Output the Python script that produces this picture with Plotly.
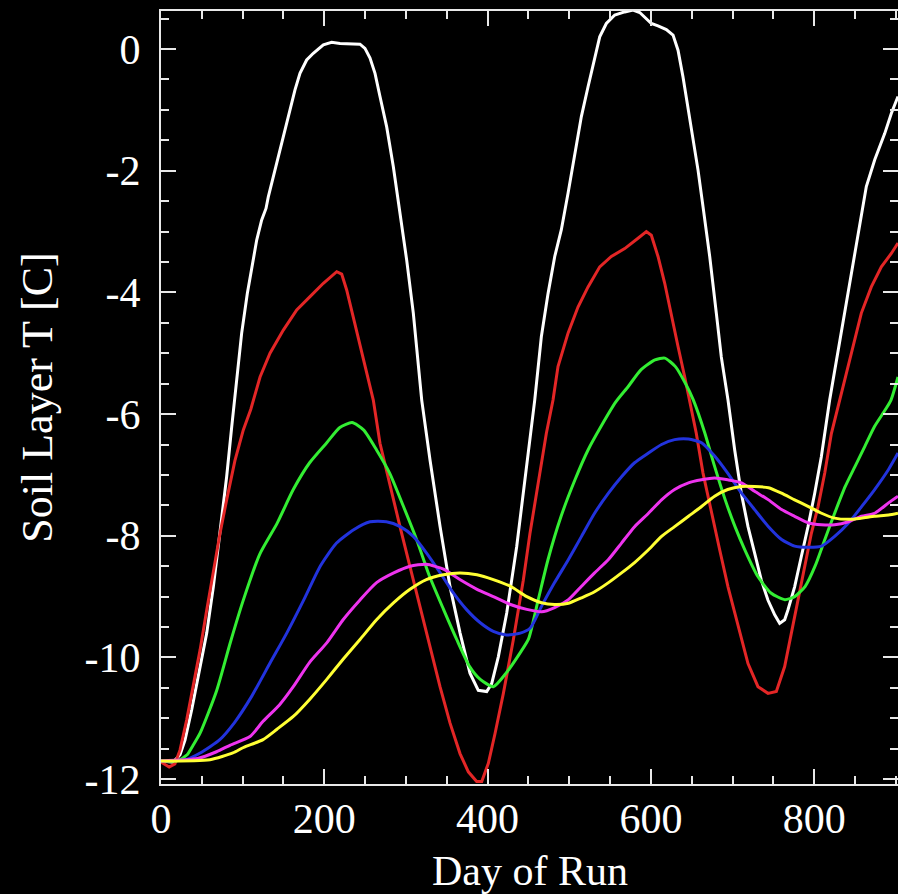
import plotly.graph_objects as go

# Soil layer temperature at six depths over the run (day, degC)
white_day = [0, 15, 23.3, 29.4, 37.6, 47.8, 56, 64.1, 72.3, 80.4, 86.6, 90.6, 98.8, 105.7, 111.1, 117.2,
             123.3, 128.6, 131.4, 139.6, 147.8, 155.9, 164.1, 170.2, 178.4, 186.5, 198.8, 209.0, 219.2,
             243.7, 249.8, 256, 262.1, 268.2, 276.4, 284.5, 292.7, 300.9, 309.0, 319.3, 329.5, 341.8,
             354, 366.3, 378.4, 388.6, 398.9, 405, 413.1, 423.4, 435.6, 447.9, 457.7, 465.8, 474, 482.2,
             490.3, 498.5, 506.7, 514.8, 523, 531.2, 537.3, 545.4, 555.7, 567.9, 578.1, 586.3, 594.4,
             600.5, 608.7, 618.9, 627.1, 633.2, 639.3, 645.4, 651.6, 657.7, 663.8, 672, 680.1, 686.2,
             694.4, 702.6, 710.7, 718.9, 727.1, 735.2, 743.4, 751.6, 757.7, 763.8, 767.8, 776, 784.2,
             792.4, 800.6, 808.7, 818.9, 829.2, 839.4, 849.6, 857.7, 863.8, 874.1, 886.3, 894.4, 902.6]
white_temp = [-11.7, -11.72, -11.6, -11.36, -10.86, -10.15, -9.6, -8.84, -7.96, -7.03, -6.21, -5.71, -4.67,
              -4.02, -3.58, -3.14, -2.81, -2.62, -2.43, -1.99, -1.55, -1.11, -0.67, -0.4, -0.18, -0.07,
              0.07, 0.11, 0.09, 0.08, 0.01, -0.15, -0.4, -0.78, -1.28, -1.93, -2.7, -3.47, -4.34, -5.77,
              -6.76, -7.85, -8.84, -9.6, -10.26, -10.54, -10.56, -10.43, -9.99, -9.27, -8.18, -6.87,
              -5.77, -4.73, -4.02, -3.41, -2.97, -2.37, -1.71, -1.11, -0.62, -0.13, 0.2, 0.42, 0.56,
              0.61, 0.64, 0.6, 0.5, 0.42, 0.38, 0.32, 0.23, -0.02, -0.46, -0.95, -1.5, -1.99, -2.59,
              -3.41, -4.34, -5.06, -5.77, -6.59, -7.3, -7.85, -8.29, -8.73, -9.06, -9.3, -9.44, -9.38,
              -9.22, -8.84, -8.34, -7.85, -7.3, -6.7, -5.77, -4.95, -4.13, -3.36, -2.7, -2.26, -1.82,
              -1.39, -1.06, -0.78]

red_day = [0, 10, 17, 23.3, 31.4, 39.6, 47.8, 56, 64.1, 72.3, 80.4, 90.6, 100.8, 110, 121.3,
           133.5, 149.8, 166.2, 182.5, 198.8, 215.2, 221.3, 227.4, 235.5, 243.7, 251.9, 260, 268.2,
           280.5, 292.7, 305, 317.2, 329.5, 341.7, 354, 366.2, 376.4, 386.6, 392.8, 400.9, 409.1,
           419.3, 431.5, 443.7, 451.9, 461.7, 471.9, 480.1, 486.2, 498.5, 510.7, 523, 537.3, 551.5,
           567.9, 584.2, 594.4, 600.5, 608.7, 616.9, 625, 633.2, 641.4, 647.5, 655.6, 663.8, 674,
           684.2, 694.4, 706.6, 718.9, 731.1, 743.4, 753.6, 763.8, 772, 780.2, 788.4, 796.5, 804.7,
           812.9, 821, 831.2, 845.5, 857.7, 869.9, 882.2, 894.4, 902.6]
red_temp = [-11.72, -11.8, -11.75, -11.52, -11.03, -10.48, -9.88, -9.22, -8.56, -7.96, -7.41, -6.76,
            -6.26, -5.92, -5.39, -5.0, -4.62, -4.29, -4.07, -3.85, -3.66, -3.7, -3.96, -4.4,
            -4.84, -5.28, -5.77, -6.48, -7.19, -7.85, -8.51, -9.17, -9.82, -10.48, -11.08, -11.58,
            -11.88, -12.04, -12.04, -11.74, -11.25, -10.59, -9.71, -8.73, -7.96, -7.14, -6.32, -5.77,
            -5.22, -4.67, -4.24, -3.91, -3.58, -3.41, -3.28, -3.11, -3.0, -3.06, -3.41, -3.85, -4.34,
            -4.89, -5.39, -5.77, -6.32, -6.97, -7.63, -8.23, -8.84, -9.49, -10.1, -10.48, -10.59,
            -10.56, -10.15, -9.6, -9.06, -8.51, -7.96, -7.52, -6.97, -6.32, -5.77, -4.95, -4.34,
            -3.91, -3.58, -3.36, -3.19]

green_day = [0, 20, 32, 39, 48, 68, 85, 101, 121, 142, 162, 182, 203, 219, 234, 248, 264, 280, 297,
             313, 329, 346, 362, 378, 391, 407, 423, 440, 450, 462, 474, 490, 507, 523, 539, 557, 572,
             588, 605, 617, 630, 642, 652, 666, 678, 691, 703, 715, 731, 747, 764, 776, 789, 801, 813,
             825, 838, 850, 862, 874, 887, 894, 902.6]
green_temp = [-11.7, -11.7, -11.6, -11.45, -11.24, -10.55, -9.75, -9.05, -8.3, -7.8, -7.24, -6.8,
              -6.47, -6.22, -6.14, -6.26, -6.59, -6.97, -7.52, -8.06, -8.67, -9.21, -9.7, -10.15,
              -10.36, -10.48, -10.25, -9.92, -9.7, -9.05, -8.39, -7.68, -7.08, -6.59, -6.2, -5.8,
              -5.55, -5.27, -5.11, -5.08, -5.22, -5.49, -5.77, -6.31, -6.86, -7.41, -7.85, -8.23,
              -8.67, -8.94, -9.05, -9.0, -8.83, -8.5, -8.06, -7.63, -7.19, -6.86, -6.53, -6.2, -5.93,
              -5.77, -5.39]

blue_day = [0, 30, 48, 72, 90, 111, 134, 154, 175, 195, 215, 236, 256, 276, 293, 309, 325, 342, 358,
            374, 391, 407, 423, 440, 452, 466, 482, 499, 515, 531, 548, 564, 580, 597, 613, 629, 646,
            662, 678, 694, 711, 727, 744, 760, 776, 793, 809, 825, 842, 858, 874, 891, 902.6]
blue_temp = [-11.7, -11.68, -11.57, -11.35, -11.07, -10.64, -10.08, -9.6, -9.05, -8.5, -8.12, -7.9,
             -7.77, -7.77, -7.85, -8.01, -8.28, -8.61, -8.94, -9.21, -9.43, -9.57, -9.63, -9.6, -9.52,
             -9.16, -8.77, -8.39, -8.01, -7.63, -7.3, -7.03, -6.8, -6.64, -6.5, -6.42, -6.41, -6.47,
             -6.69, -6.97, -7.3, -7.57, -7.85, -8.06, -8.17, -8.19, -8.17, -8.01, -7.79, -7.52, -7.24,
             -6.91, -6.64]

magenta_day = [0, 45, 68, 85, 109, 125, 145, 162, 182, 203, 223, 244, 264, 285, 305, 325, 346, 366,
               387, 407, 428, 448, 466, 482, 499, 515, 531, 548, 564, 580, 597, 613, 629, 646, 662,
               678, 694, 711, 727, 744, 760, 776, 793, 809, 825, 842, 858, 874, 891, 902.6]
magenta_temp = [-11.7, -11.66, -11.55, -11.44, -11.3, -11.05, -10.78, -10.48, -10.08, -9.76, -9.38,
                -9.05, -8.77, -8.61, -8.5, -8.47, -8.55, -8.72, -8.88, -9.0, -9.13, -9.21, -9.25,
                -9.18, -9.05, -8.83, -8.61, -8.39, -8.12, -7.85, -7.63, -7.41, -7.24, -7.13, -7.08,
                -7.05, -7.08, -7.13, -7.27, -7.41, -7.57, -7.68, -7.79, -7.82, -7.82, -7.77, -7.68,
                -7.63, -7.46, -7.35]

yellow_day = [0, 60, 88, 101, 125, 142, 162, 182, 203, 223, 244, 264, 285, 305, 325, 346, 366, 387,
              407, 428, 448, 466, 482, 499, 515, 531, 548, 564, 580, 597, 613, 629, 646, 662, 678,
              694, 711, 727, 744, 760, 776, 793, 809, 825, 842, 858, 874, 891, 902.6]
yellow_temp = [-11.7, -11.68, -11.57, -11.48, -11.35, -11.18, -10.97, -10.69, -10.36, -10.03, -9.7,
               -9.38, -9.1, -8.88, -8.72, -8.64, -8.61, -8.64, -8.72, -8.83, -9.0, -9.1, -9.13,
               -9.11, -9.02, -8.92, -8.77, -8.61, -8.44, -8.23, -8.01, -7.85, -7.68, -7.52, -7.35,
               -7.24, -7.19, -7.19, -7.21, -7.3, -7.41, -7.52, -7.63, -7.71, -7.73, -7.71, -7.68,
               -7.66, -7.63]

x_tick_vals = [0, 200, 400, 600, 800]
x_tick_text = ["0", "200", "400", "600", "800"]
y_tick_vals = [-12, -10, -8, -6, -4, -2, 0]
y_tick_text = ["-12", "-10", "-8", "-6", "-4", "-2", "0"]

x_title = "Day of Run"
y_title = "Soil Layer T [C]"

# (days, temps, colour, line shape) - sharp-peaked layers stay linear
series = [
    (white_day, white_temp, "#ffffff", "linear"),
    (red_day, red_temp, "#e32626", "linear"),
    (green_day, green_temp, "#33ee33", "spline"),
    (blue_day, blue_temp, "#2233dd", "spline"),
    (magenta_day, magenta_temp, "#ee33ee", "spline"),
    (yellow_day, yellow_temp, "#ffff33", "spline"),
]

X_RANGE = [0, 902.6]
Y_RANGE = [-12.08, 0.625]
AXIS_COLOR = "#e8e8e8"
FONT = "Liberation Serif"

fig = go.Figure()
for days, temps, color, shape in series:
    line = dict(color=color, width=3, shape=shape)
    if shape == "spline":
        line["smoothing"] = 0.6
    fig.add_trace(go.Scatter(x=days, y=temps, mode="lines", line=line,
                             showlegend=False, hoverinfo="skip"))

# empty trace so the right-hand tick axis is rendered
fig.add_trace(go.Scatter(x=[None], y=[None], yaxis="y2", showlegend=False, hoverinfo="skip"))

tick_common = dict(ticks="inside", tickwidth=2, tickcolor=AXIS_COLOR, showgrid=False, zeroline=False)

fig.update_layout(
    width=898, height=894,
    margin=dict(l=161, r=0, t=11, b=110),
    paper_bgcolor="black", plot_bgcolor="black",
    font=dict(family=FONT, color="white", size=42),
    xaxis=dict(range=X_RANGE, tickvals=x_tick_vals, ticktext=x_tick_text,
               ticklen=15, showline=True, linecolor=AXIS_COLOR, linewidth=2, mirror="ticks",
               minor=dict(dtick=50, tick0=0, ticks="inside", ticklen=8, tickwidth=2,
                          tickcolor=AXIS_COLOR, showgrid=False),
               tickfont=dict(family=FONT, size=42, color="white"),
               ticklabelstandoff=-3, **tick_common),
    yaxis=dict(range=Y_RANGE, tickvals=y_tick_vals, ticktext=y_tick_text,
               ticklen=15, showline=True, linecolor=AXIS_COLOR, linewidth=2, mirror=False,
               minor=dict(dtick=0.5, tick0=0, ticks="inside", ticklen=8, tickwidth=2,
                          tickcolor=AXIS_COLOR, showgrid=False),
               tickfont=dict(family=FONT, size=42, color="white"),
               ticklabelstandoff=10, **tick_common),
    yaxis2=dict(range=Y_RANGE, overlaying="y", side="right", tickvals=y_tick_vals,
                showticklabels=False, showline=False, ticklen=15,
                minor=dict(dtick=0.5, tick0=0, ticks="inside", ticklen=8, tickwidth=2,
                           tickcolor=AXIS_COLOR, showgrid=False),
                **tick_common),
    annotations=[
        dict(text=x_title, xref="paper", yref="paper", x=0.5, y=-0.08,
             xanchor="center", yanchor="top", showarrow=False,
             font=dict(family=FONT, size=42, color="white")),
        dict(text=y_title, xref="paper", yref="paper", x=-0.168, y=0.5,
             xanchor="center", yanchor="middle", textangle=-90, showarrow=False,
             font=dict(family=FONT, size=44, color="white")),
    ],
)

fig.write_html("out.html")
